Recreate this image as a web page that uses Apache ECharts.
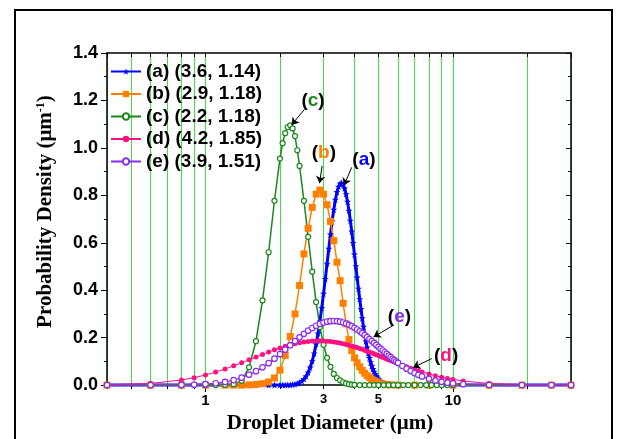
<!DOCTYPE html>
<html>
<head>
<meta charset="utf-8">
<title>Droplet size distribution</title>
<script src="https://cdn.jsdelivr.net/npm/echarts@6/dist/echarts.min.js"></script>
<style>
  html, body { margin: 0; padding: 0; background: #fff; }
  #chart { width: 620px; height: 439px; }
</style>
</head>
<body>
<div id="chart"></div>
<script>
// droplet diameter (um) / probability density (1/um)
var sizeA = [0.4, 0.6, 0.8, 1.0, 1.2, 1.4, 1.6, 1.8, 1.9,
  2.0, 2.05, 2.1, 2.15, 2.2, 2.25, 2.3, 2.35, 2.4, 2.45,
  2.5, 2.55, 2.6, 2.65, 2.7, 2.75, 2.8, 2.85, 2.9, 2.95,
  3.0, 3.05, 3.1, 3.15, 3.2, 3.25, 3.3, 3.35, 3.4, 3.45,
  3.5, 3.55, 3.6, 3.65, 3.7, 3.75, 3.8, 3.85, 3.9, 3.95,
  4.0, 4.05, 4.1, 4.15, 4.2, 4.25, 4.3, 4.35, 4.4, 4.45,
  4.5, 4.55, 4.6, 4.65, 4.7, 4.75, 4.8, 4.85, 4.9, 4.95,
  5.0, 5.1, 5.2, 5.3, 5.4, 5.5, 5.6, 6, 7, 8, 10, 14, 19, 25, 30];
var densA = [0, 0, 0, 0, 0, 0, 0, 0, 0,
  0.0001, 0.0002, 0.0003, 0.0006, 0.0012, 0.0022, 0.0038, 0.0065, 0.0106, 0.0166,
  0.0253, 0.0374, 0.0536, 0.0747, 0.1013, 0.1339, 0.1728, 0.2180, 0.2690, 0.3252,
  0.3855, 0.4483, 0.5121, 0.5751, 0.6352, 0.6908, 0.7401, 0.7816, 0.8142, 0.8372,
  0.8500, 0.8528, 0.8458, 0.8296, 0.8051, 0.7735, 0.7358, 0.6935, 0.6478, 0.5999,
  0.5509, 0.5019, 0.4538, 0.4072, 0.3629, 0.3211, 0.2823, 0.2466, 0.2142, 0.1849,
  0.1587, 0.1355, 0.1150, 0.0972, 0.0817, 0.0684, 0.0570, 0.0472, 0.0390, 0.0321,
  0.0263, 0.0174, 0.0114, 0.0074, 0.0047, 0.0030, 0.0018, 0.0002, 0, 0, 0, 0, 0, 0, 0];

var sizeB = [0.4, 0.6, 0.8, 1.0, 1.2, 1.3,
  1.4, 1.5, 1.6, 1.7, 1.8, 1.9, 2.0, 2.1, 2.2, 2.3,
  2.4, 2.5, 2.6, 2.7, 2.8, 2.9, 3.0, 3.1, 3.2, 3.3,
  3.4, 3.5, 3.6, 3.7, 3.8, 3.9, 4.0, 4.1, 4.2, 4.3,
  4.4, 4.5, 4.6, 4.7, 4.8, 4.9, 5.0, 5.2, 5.4, 5.6,
  6, 7, 8, 10, 14, 19, 25, 30];
var densB = [0, 0, 0, 0, 0, 0,
  0.000, 0.001, 0.003, 0.006, 0.013, 0.030, 0.063, 0.125, 0.205, 0.300,
  0.420, 0.553, 0.661, 0.749, 0.805, 0.822, 0.805, 0.760, 0.690, 0.609,
  0.518, 0.440, 0.345, 0.258, 0.192, 0.146, 0.115, 0.094, 0.077, 0.062,
  0.050, 0.040, 0.032, 0.025, 0.019, 0.014, 0.010, 0.005, 0.002, 0.001,
  0, 0, 0, 0, 0, 0, 0, 0];

var sizeC = [0.4, 0.6, 0.8, 1.0, 1.1, 1.2, 1.3, 1.4, 1.5, 1.6,
  1.7, 1.8, 1.9, 2.0, 2.05, 2.1, 2.15, 2.2, 2.25, 2.3,
  2.35, 2.4, 2.5, 2.6, 2.7, 2.8, 2.9, 3.0, 3.1, 3.2,
  3.3, 3.4, 3.5, 3.6, 3.7, 3.8, 3.9, 4.0, 4.2, 4.4,
  4.6, 4.8, 5.0, 5.25, 5.5, 5.75, 6.0, 6.3, 6.6, 7.0,
  7.4, 7.8, 8.2, 8.6, 9.0, 9.5, 10, 14, 19, 25, 30];
var densC = [0, 0, 0, 0, 0, 0.001, 0.004, 0.018, 0.075, 0.185,
  0.357, 0.560, 0.777, 0.955, 1.020, 1.062, 1.088, 1.095, 1.082, 1.050,
  0.990, 0.924, 0.777, 0.625, 0.478, 0.350, 0.245, 0.170, 0.115, 0.077,
  0.047, 0.030, 0.020, 0.012, 0.007, 0.004, 0.002, 0.001, 0, 0,
  0, 0, 0, 0, 0, 0, 0, 0, 0, 0,
  0, 0, 0, 0, 0, 0, 0, 0, 0, 0, 0];

// (d) and (e) share the same sampling
var sizeDE = [0.4, 0.6, 0.8, 0.9, 1.0, 1.1, 1.2, 1.3, 1.4, 1.5,
  1.6, 1.7, 1.8, 1.9, 2.0, 2.1, 2.2, 2.3, 2.4, 2.5,
  2.6, 2.7, 2.8, 2.9, 3.0, 3.1, 3.2, 3.3, 3.4, 3.5,
  3.6, 3.7, 3.8, 3.9, 4.0, 4.1, 4.2, 4.3, 4.4, 4.5,
  4.6, 4.7, 4.8, 4.9, 5.0, 5.1, 5.2, 5.3, 5.4, 5.5,
  5.6, 5.7, 5.8, 5.9, 6.0, 6.25, 6.5, 6.75, 7.0, 7.25,
  7.5, 8, 8.5, 9, 9.5, 10, 11, 14, 19, 25, 30];
var densD = [0.0011, 0.0073, 0.0214, 0.0313, 0.0427, 0.0550, 0.0680, 0.0811, 0.0940, 0.1065,
  0.1184, 0.1295, 0.1395, 0.1486, 0.1567, 0.1637, 0.1697, 0.1746, 0.1787, 0.1818,
  0.1841, 0.1856, 0.1864, 0.1866, 0.1861, 0.1852, 0.1838, 0.1820, 0.1798, 0.1773,
  0.1746, 0.1716, 0.1684, 0.1651, 0.1616, 0.1580, 0.1544, 0.1507, 0.1470, 0.1432,
  0.1394, 0.1357, 0.1320, 0.1283, 0.1246, 0.1210, 0.1174, 0.1139, 0.1105, 0.1071,
  0.1038, 0.1006, 0.0974, 0.0944, 0.0914, 0.0842, 0.0775, 0.0714, 0.0656, 0.0603,
  0.0555, 0.0468, 0.0396, 0.0334, 0.0283, 0.0240, 0.0173, 0.0068, 0.0017, 0.0004, 0.0001];
var densE = [0, 0.0001, 0.0007, 0.0019, 0.0041, 0.0079, 0.0135, 0.0213, 0.0315, 0.0439,
  0.0585, 0.0748, 0.0925, 0.1112, 0.1302, 0.1492, 0.1676, 0.1852, 0.2015, 0.2163,
  0.2295, 0.2408, 0.2502, 0.2578, 0.2635, 0.2674, 0.2696, 0.2702, 0.2694, 0.2672,
  0.2639, 0.2595, 0.2542, 0.2482, 0.2416, 0.2344, 0.2268, 0.2189, 0.2108, 0.2025,
  0.1942, 0.1859, 0.1776, 0.1695, 0.1614, 0.1536, 0.1459, 0.1385, 0.1313, 0.1243,
  0.1176, 0.1111, 0.1050, 0.0991, 0.0934, 0.0805, 0.0691, 0.0591, 0.0505, 0.0431,
  0.0367, 0.0265, 0.0191, 0.0137, 0.0099, 0.0071, 0.0037, 0.0006, 0, 0, 0];

var seriesNames = ['(a) (3.6, 1.14)', '(b) (2.9, 1.18)', '(c) (2.2, 1.18)', '(d) (4.2, 1.85)', '(e) (3.9, 1.51)'];
var tickSizes = [0.4, 0.5, 0.6, 0.7, 0.8, 0.9, 1, 2, 3, 4, 5, 6, 7, 8, 9, 10, 20, 30];
var labelSizes = [1, 3, 5, 10];
var decadeSizes = [1, 10];

var lg = function (v) { return Math.log10(v); };
function pairs(xs, ys) {
  return xs.map(function (x, i) { return [lg(x), ys[i]]; });
}

var colors = ['#0000ff', '#ff8000', '#1c861c', '#ff1080', '#8b2cf2'];
var sansBold = { fontFamily: 'Liberation Sans', fontWeight: 'bold', color: '#000' };
var star = 'path://M0,-10L2.4,-3.2L9.5,-3.1L3.8,1.2L5.9,8.1L0,4L-5.9,8.1L-3.8,1.2L-9.5,-3.1L-2.4,-3.2Z';

// arrow callouts: [letter, label x, label y, arrow from x, y, arrow to x, y]
var notes = [
  ['a', 4.37, 0.95, 3.90, 0.918, 3.63, 0.842],
  ['b', 3.01, 0.98, 2.96, 0.924, 2.89, 0.851],
  ['c', 2.72, 1.20, 2.51, 1.162, 2.23, 1.097],
  ['d', 9.39, 0.123, 8.22, 0.112, 6.91, 0.074],
  ['e', 6.08, 0.287, 5.74, 0.252, 4.78, 0.203]
];

function callout(n, color) {
  return {
    markLine: {
      silent: true, animation: false,
      symbol: ['none', 'arrow'], symbolSize: 7,
      lineStyle: { color: '#000', width: 1, type: 'solid' },
      label: { show: false },
      data: [[{ coord: [lg(n[3]), n[4]] }, { coord: [lg(n[5]), n[6]] }]]
    },
    markPoint: {
      silent: true, animation: false,
      symbol: 'circle', symbolSize: 0,
      label: {
        show: true, position: 'inside',
        formatter: '{k|(}{c|' + n[0] + '}{k|)}',
        rich: {
          k: { fontFamily: 'Liberation Sans', fontWeight: 'bold', fontSize: 19, color: '#000' },
          c: { fontFamily: 'Liberation Sans', fontWeight: 'bold', fontSize: 19, color: color }
        }
      },
      data: [{ coord: [lg(n[1]), n[2]] }]
    }
  };
}

function makeSeries(i, xs, ys, extra) {
  var s = {
    name: seriesNames[i],
    type: 'line',
    data: pairs(xs, ys),
    clip: false,
    color: colors[i],
    showSymbol: true,
    lineStyle: { width: extra.width, color: colors[i] },
    symbol: extra.symbol,
    symbolSize: extra.size,
    itemStyle: extra.hollow ? { color: '#fff', borderColor: colors[i], borderWidth: 1.2 } : { color: colors[i] }
  };
  var c = callout(notes[i], colors[i]);
  s.markLine = c.markLine;
  s.markPoint = c.markPoint;
  return s;
}

var chart = echarts.init(document.getElementById('chart'));

var xMin = lg(0.4), xMax = lg(30);

var option = {
  animation: false,
  backgroundColor: '#fff',
  grid: { left: 107, right: 49, top: 53, bottom: 52 },
  graphic: [{
    type: 'rect', silent: true,
    shape: { x: 15, y: 10, width: 597, height: 445 },
    style: { fill: 'none', stroke: '#000', lineWidth: 2 }
  }],
  legend: {
    orient: 'vertical', left: 110, top: 62, padding: 0,
    itemWidth: 30, itemHeight: 8, itemGap: 3.5,
    textStyle: { fontFamily: 'Liberation Sans', fontWeight: 'bold', fontSize: 19, color: '#000' },
    data: seriesNames
  },
  xAxis: [{
    type: 'value', position: 'bottom', min: xMin, max: xMax,
    name: 'Droplet Diameter (μm)', nameLocation: 'middle', nameGap: 23,
    nameTextStyle: { fontFamily: 'Liberation Serif', fontWeight: 'bold', fontSize: 21, color: '#000', padding: [0, 18, 0, 0] },
    axisLine: { show: true, onZero: false, lineStyle: { color: '#000', width: 1.5 } },
    axisTick: { show: true, inside: false, length: 4, customValues: tickSizes.map(lg), lineStyle: { color: '#000' } },
    axisLabel: {
      margin: 8, customValues: labelSizes.map(lg),
      formatter: function (v) {
        var d = Math.round(Math.pow(10, v));
        return (d === 3 || d === 5) ? '{s|' + d + '}' : '{b|' + d + '}';
      },
      rich: {
        b: { fontFamily: 'Liberation Sans', fontWeight: 'bold', fontSize: 15, color: '#000' },
        s: { fontFamily: 'Liberation Sans', fontWeight: 'bold', fontSize: 13, color: '#000' }
      }
    },
    splitLine: { show: true, lineStyle: { color: '#40e040', width: 1 } }
  }, {
    type: 'value', position: 'bottom', min: xMin, max: xMax,
    axisLine: { show: false },
    axisTick: { show: true, length: 7, customValues: decadeSizes.map(lg), lineStyle: { color: '#000' } },
    axisLabel: { show: false },
    splitLine: { show: false }
  }, {
    type: 'value', position: 'top', min: xMin, max: xMax,
    axisLine: { show: true, onZero: false, lineStyle: { color: '#000', width: 1.5 } },
    axisTick: { show: true, inside: true, length: 4, customValues: tickSizes.map(lg), lineStyle: { color: '#000' } },
    axisLabel: { show: false },
    splitLine: { show: false }
  }],
  yAxis: [{
    type: 'value', position: 'left', min: 0, max: 1.4, interval: 0.2,
    name: '{t|Probability Density (μm}{u|-1}{t|)}', nameLocation: 'middle', nameGap: 50,
    nameTextStyle: {
      padding: [0, 0, 0, 15],
      rich: {
        t: { fontFamily: 'Liberation Serif', fontWeight: 'bold', fontSize: 21, color: '#000' },
        u: { fontFamily: 'Liberation Serif', fontWeight: 'bold', fontSize: 12, color: '#000', padding: [0, 0, 10, 0] }
      }
    },
    axisLine: { show: true, onZero: false, lineStyle: { color: '#000', width: 1.5 } },
    axisTick: { show: true, inside: false, length: 6, lineStyle: { color: '#000' } },
    minorTick: { show: true, splitNumber: 2, length: 3, lineStyle: { color: '#000' } },
    axisLabel: Object.assign({ fontSize: 18, margin: 9, formatter: function (v) { return v.toFixed(1); } }, sansBold),
    splitLine: { show: false }
  }, {
    type: 'value', position: 'right', min: 0, max: 1.4, interval: 0.2,
    axisLine: { show: true, onZero: false, lineStyle: { color: '#000', width: 1.5 } },
    axisTick: { show: true, inside: true, length: 5, lineStyle: { color: '#000' } },
    minorTick: { show: true, splitNumber: 2, length: 3, lineStyle: { color: '#000' } },
    axisLabel: { show: false },
    splitLine: { show: false }
  }],
  series: [
    makeSeries(0, sizeA, densA, { width: 3, symbol: star, size: 7 }),
    makeSeries(1, sizeB, densB, { width: 1.5, symbol: 'rect', size: 7 }),
    makeSeries(2, sizeC, densC, { width: 1.5, symbol: 'circle', size: 5, hollow: true }),
    makeSeries(3, sizeDE, densD, { width: 1, symbol: 'circle', size: 5 }),
    makeSeries(4, sizeDE, densE, { width: 1.2, symbol: 'circle', size: 5.5, hollow: true })
  ]
};

chart.setOption(option);
</script>
</body>
</html>
